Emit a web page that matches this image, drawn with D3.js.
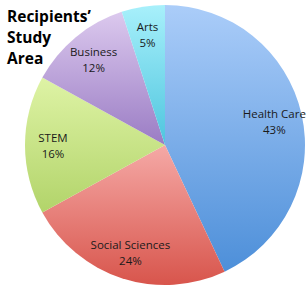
<!DOCTYPE html>
<html>
<head>
<meta charset="utf-8">
<script src="https://cdn.jsdelivr.net/npm/d3@7"></script>
<style>
  html, body { margin: 0; padding: 0; background: #fff; }
  svg { display: block; }
</style>
</head>
<body>
<script>
// study areas of the recipients, clockwise from 12 o'clock
const areas = ['Health Care', 'Social Sciences', 'STEM', 'Business', 'Arts']
const shares = [43, 24, 16, 12, 5]
const topColors = ['#abcdf9', '#f5a9a6', '#def3a5', '#dcc9ee', '#a8f0fb']
const bottomColors = ['#4d8fd9', '#d8554c', '#b2d46a', '#9a7cc4', '#4ec5de']
const titleLines = ['Recipients\u2019', 'Study', 'Area']

const WIDTH = 307
const HEIGHT = 287
const CX = 165
const CY = 145
const RADIUS = 140

const data = areas.map((name, i) => ({ name, value: shares[i], i }))

const svg = d3.select('body')
  .append('svg')
  .attr('width', WIDTH)
  .attr('height', HEIGHT)

const defs = svg.append('defs')

defs.selectAll('linearGradient')
  .data(data)
  .enter()
  .append('linearGradient')
  .attr('id', d => `grad${d.i}`)
  .attr('x1', 0).attr('y1', 0)
  .attr('x2', 0).attr('y2', 1)
  .selectAll('stop')
  .data(d => [[0, topColors[d.i]], [1, bottomColors[d.i]]])
  .enter()
  .append('stop')
  .attr('offset', d => d[0])
  .attr('stop-color', d => d[1])

const pie = d3.pie()
  .sort(null)
  .value(d => d.value)

const arc = d3.arc()
  .innerRadius(0)
  .outerRadius(RADIUS)

const labelArc = d3.arc()
  .innerRadius(112)
  .outerRadius(112)

const chart = svg.append('g')
  .attr('transform', `translate(${CX},${CY})`)

const arcs = pie(data)

chart.selectAll('path')
  .data(arcs)
  .enter()
  .append('path')
  .attr('d', arc)
  .attr('fill', d => `url(#grad${d.data.i})`)

const labels = chart.selectAll('text.label')
  .data(arcs)
  .enter()
  .append('text')
  .attr('class', 'label')
  .attr('transform', d => `translate(${labelArc.centroid(d)})`)
  .attr('text-anchor', 'middle')
  .attr('font-family', 'Open Sans, sans-serif')
  .attr('font-size', 11.5)
  .attr('fill', '#1a1a1a')

labels.append('tspan')
  .attr('x', 0)
  .attr('y', -3)
  .text(d => d.data.name)

labels.append('tspan')
  .attr('x', 0)
  .attr('y', 13)
  .text(d => `${d.data.value}%`)

svg.append('text')
  .attr('font-family', 'Open Sans, sans-serif')
  .attr('font-weight', 'bold')
  .attr('font-size', 15.5)
  .attr('fill', '#000')
  .selectAll('tspan')
  .data(titleLines)
  .enter()
  .append('tspan')
  .attr('x', 7)
  .attr('y', (d, i) => 22 + i * 21)
  .text(d => d)
</script>
</body>
</html>
